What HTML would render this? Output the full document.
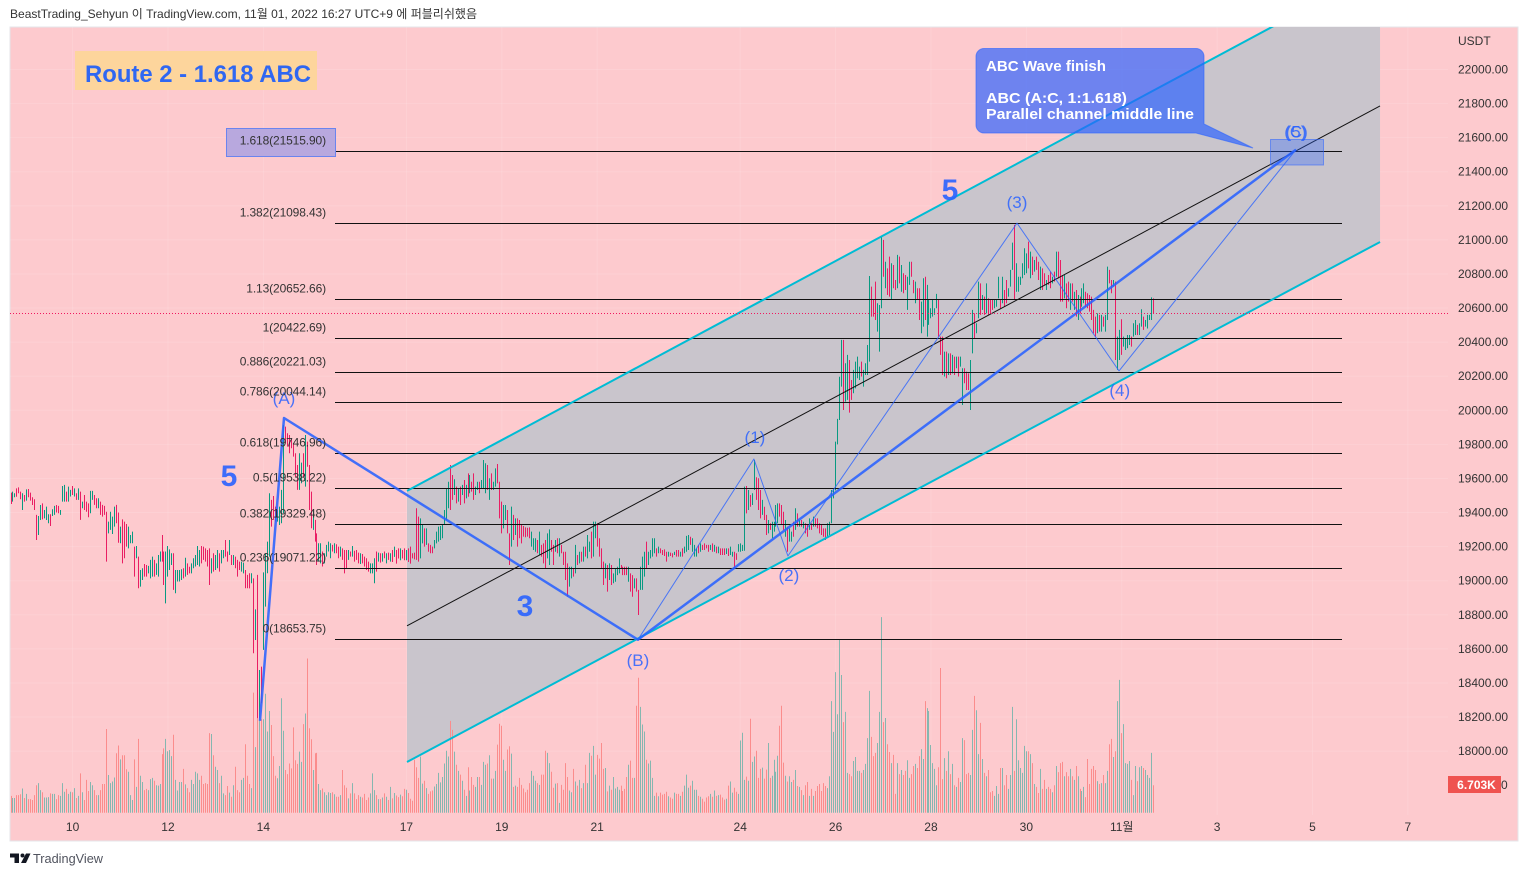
<!DOCTYPE html>
<html lang="ko">
<head>
<meta charset="utf-8">
<title>Route 2 - 1.618 ABC</title>
<style>
html,body{margin:0;padding:0;background:#fff;width:1528px;height:876px;overflow:hidden}
svg{display:block;font-family:"Liberation Sans","Noto Sans CJK KR",sans-serif}
</style>
</head>
<body>
<svg id="chart" xmlns="http://www.w3.org/2000/svg" width="1528" height="876" viewBox="0 0 1528 876">
  <defs><clipPath id="plot-clip"><rect x="10" y="27" width="1508" height="814"/></clipPath></defs>
  <text x="10" y="18" font-size="12" fill="#333" textLength="467" lengthAdjust="spacingAndGlyphs">BeastTrading_Sehyun 이 TradingView.com, 11월 01, 2022 16:27 UTC+9 에 퍼블리쉬했음</text>
  <rect x="10" y="27" width="1508" height="814" fill="#fdcace" stroke="#e4e6ea" stroke-width="1"/>
  <g id="grid"></g>
  <g clip-path="url(#plot-clip)">
    <polygon id="channel-fill" fill="#c9c5cc"/>
    <g id="vols"></g>
    <g id="bars"></g>
    <g id="fibs"></g>
    <line id="chan-mid" stroke="#111" stroke-width="1"/>
    <line id="chan-top" stroke="#00bcd4" stroke-width="2"/>
    <line id="chan-bot" stroke="#00bcd4" stroke-width="2"/>
    <polyline id="wave-abc" fill="none" stroke="#2962ff" stroke-opacity=".88" stroke-width="2.5" stroke-linejoin="round"/>
    <polyline id="wave-five" fill="none" stroke="#2962ff" stroke-opacity=".8" stroke-width="1" stroke-linejoin="round"/>
    <line id="last-price" x1="10" x2="1448" stroke="#f0185f" stroke-width="1" stroke-dasharray="1 2"/>
  </g>
  <g id="wave-labels" font-size="17" fill="#2962ff" fill-opacity=".85" text-anchor="middle"></g>
  <g font-size="30" font-weight="bold" fill="#2962ff" fill-opacity=".9" text-anchor="middle">
    <text x="229" y="486">5</text>
    <text x="525" y="616">3</text>
    <text x="950" y="200">5</text>
  </g>
  <g>
    <rect x="75" y="51" width="242" height="39" fill="#fdd59c"/>
    <text x="85" y="82" font-size="24" font-weight="bold" fill="#2f67f2" textLength="226" lengthAdjust="spacingAndGlyphs">Route 2 - 1.618 ABC</text>
  </g>
  <rect x="226.5" y="128.5" width="109" height="28" fill="#b8a8de" stroke="#6b84ee"/>
  <g id="fib-labels" font-size="12" fill="#333" text-anchor="end" letter-spacing="-.12"></g>
  <rect x="1270.5" y="139.5" width="53" height="25.5" fill="#2962ff" fill-opacity=".32" stroke="#2962ff" stroke-opacity=".55"/>
  <g>
    <path d="M984 48.5H1196a8 8 0 0 1 8 8V124L1253 148L1196 133H984a8 8 0 0 1-8-8V56.500a8 8 0 0 1 8-8Z" fill="#2962ff" fill-opacity=".68" stroke="#2962ff" stroke-opacity=".6"/>
    <g font-size="15" font-weight="bold" fill="#fff">
      <text x="986" y="71" textLength="120" lengthAdjust="spacingAndGlyphs">ABC Wave finish</text>
      <text x="986" y="103" textLength="141" lengthAdjust="spacingAndGlyphs">ABC (A:C, 1:1.618)</text>
      <text x="986" y="119" textLength="208" lengthAdjust="spacingAndGlyphs">Parallel channel middle line</text>
    </g>
  </g>
  <g id="y-axis" font-size="12" fill="#333">
    <text x="1458" y="45">USDT</text>
    <text x="1501" y="789">0</text>
  </g>
  <rect x="1448" y="776" width="53" height="17" fill="#ef5350"/>
  <text x="1476.500" y="789" font-size="12" font-weight="bold" fill="#fff" text-anchor="middle">6.703K</text>
  <g id="x-axis" font-size="12" fill="#333" text-anchor="middle"></g>
  <g>
    <path d="M10 853.500h9v9.500h-4.500v-5.500h-4.500ZM26 853.500h4.500l-4.500 9.500h-5Z" fill="#131722"/>
    <circle cx="22.500" cy="855.500" r="2" fill="#131722"/>
    <text x="33" y="863" font-size="13" fill="#50535e" textLength="70" lengthAdjust="spacingAndGlyphs">TradingView</text>
  </g>
</svg>
<script>
const priceTicks = [22000,21800,21600,21400,21200,21000,20800,20600,20400,20200,20000,19800,19600,19400,19200,19000,18800,18600,18400,18200,18000];
const dateLabels = ["10","12","14","17","19","21","24","26","28","30","11월","3","5","7"];
const dateBars = [31,79,127,199,247,295,367,415,463,511,559,607,655,703];
const fibRatios = ["1.618","1.382","1.13","1","0.886","0.786","0.618","0.5","0.382","0.236","0"];
const fibPrices = [21515.90,21098.43,20652.66,20422.69,20221.03,20044.14,19746.96,19538.22,19329.48,19071.22,18653.75];
const lastPrice = 20570;
const barHighs = [
19517,19523,19513,19542,19548,19523,19513,19503,19536,19538,19517,19490,19478,19386,19380,19444,19454,19415,19435,19390,19390,19419,19439,19444,
19439,19415,19556,19562,19523,19552,19533,19556,19542,19513,19542,19523,19464,19503,19464,19454,19527,19527,19503,19484,19484,19464,19445,19439,
19405,19347,19405,19376,19435,19445,19400,19317,19360,19347,19333,19317,19268,19288,19200,19204,19141,19063,19073,19098,19092,19087,19122,19141,
19122,19102,19151,19171,19268,19171,19171,19204,19184,19161,19161,19063,19063,19063,19067,19073,19135,19102,19082,19102,19132,19151,19204,19180,
19204,19200,19190,19180,19190,19132,19161,19151,19180,19161,19180,19180,19239,19171,19239,19151,19151,19141,19122,19112,19112,19106,19063,19034,
19044,19044,19014,18832,19034,18476,18496,19049,19161,19229,19513,19474,19497,19435,19415,19435,19533,19914,19904,19865,19855,19836,19806,19748,
19679,19748,19693,19748,19855,19816,19679,19523,19415,19357,19278,19220,19220,19171,19161,19210,19229,19220,19210,19220,19214,19200,19200,19190,
19180,19180,19180,19171,19204,19176,19180,19165,19161,19157,19141,19132,19112,19102,19102,19132,19171,19165,19161,19161,19171,19161,19165,19161,
19180,19200,19180,19190,19190,19180,19190,19180,19190,19200,19161,19165,19425,19376,19366,19333,19307,19307,19219,19210,19200,19239,19288,19317,
19321,19327,19415,19542,19581,19679,19620,19595,19552,19542,19552,19562,19591,19562,19630,19620,19581,19630,19552,19581,19581,19591,19708,19689,
19679,19601,19630,19581,19659,19685,19581,19464,19444,19444,19415,19278,19435,19386,19366,19366,19356,19327,19321,19313,19311,19313,19288,19249,
19249,19239,19288,19210,19219,19239,19278,19301,19239,19210,19239,19249,19249,19210,19170,19170,19102,19082,19082,19073,19210,19151,19170,19170,
19200,19200,19268,19229,19288,19347,19347,19337,19249,19190,19112,19102,19092,19102,19092,19043,19073,19082,19131,19092,19082,19082,19082,19082,
19043,19033,19014,19014,18946,19082,19141,19170,19229,19170,19180,19249,19249,19190,19200,19190,19180,19184,19170,19170,19165,19161,19170,19180,
19180,19170,19190,19200,19263,19268,19258,19249,19210,19190,19210,19219,19210,19219,19210,19210,19210,19219,19210,19200,19200,19190,19190,19190,
19190,19190,19200,19170,19170,19161,19215,19219,19210,19552,19556,19532,19503,19513,19708,19607,19601,19532,19474,19434,19386,19356,19337,19346,
19346,19444,19454,19454,19444,19405,19356,19317,19307,19288,19346,19425,19395,19356,19356,19346,19337,19327,19366,19337,19376,19366,19366,19337,
19327,19307,19307,19337,19346,19532,19542,19816,19950,20197,20413,20413,20276,20325,20295,20178,20237,20286,20315,20256,20286,20237,20276,20383,
20788,20726,20648,20755,20628,20618,21019,21000,20872,20833,20902,20863,20853,20765,20912,20902,20853,20804,20794,20784,20872,20872,20765,20755,
20716,20716,20638,20775,20784,20736,20648,20599,20651,20599,20683,20648,20432,20432,20344,20344,20334,20334,20325,20315,20315,20315,20315,20247,
20247,20227,20217,20295,20589,20569,20511,20755,20745,20677,20667,20745,20657,20648,20648,20648,20648,20784,20648,20784,20706,20765,20716,20824,
20984,21088,20863,20784,20784,20863,20951,20921,20990,20931,20902,20882,20902,20872,20843,20833,20804,20765,20794,20814,20784,20814,20931,20931,
20882,20794,20794,20745,20755,20745,20745,20696,20706,20677,20667,20716,20745,20696,20687,20677,20667,20589,20550,20569,20560,20560,20550,20560,
20843,20824,20765,20765,20755,20432,20472,20534,20432,20423,20442,20442,20432,20511,20530,20501,20511,20593,20550,20530,20560,20560,20663,20657];
const barLows = [
19450,19464,19490,19493,19513,19478,19415,19464,19470,19490,19470,19444,19415,19239,19268,19356,19360,19366,19356,19337,19321,19380,19386,19400,
19396,19386,19464,19464,19464,19464,19494,19503,19494,19474,19474,19357,19425,19415,19405,19372,19396,19474,19445,19425,19425,19386,19376,19386,
19112,19278,19298,19274,19317,19337,19223,19220,19102,19132,19200,19190,19220,19220,19024,19132,18956,18965,19004,19024,19024,19043,19014,19024,
19024,19034,19024,19112,19112,18975,18867,19024,19063,19092,18946,18926,18995,18995,19004,19014,19024,19034,19043,19043,19073,19083,19092,19083,
19102,19122,19112,19083,18975,19043,19053,19063,19073,19053,19102,19132,19141,19112,19151,19092,19092,19073,19024,19063,19053,19043,18956,18956,
18955,18985,18574,18652,18193,18193,18281,18594,18848,19044,19141,19317,19357,19347,19347,19327,19337,19396,19806,19787,19748,19777,19728,19611,
19533,19533,19572,19611,19552,19669,19415,19308,19298,19229,19092,19112,19102,19083,19102,19141,19171,19132,19171,19161,19161,19132,19141,19122,
19043,19073,19122,19141,19141,19112,19122,19102,19098,19102,19083,19063,19053,19043,19043,18985,19053,19112,19106,19112,19132,19102,19122,19112,
19110,19140,19100,19130,19120,19130,19120,19120,19110,19100,19131,19125,19122,19112,19131,19219,19200,19210,19170,19161,19161,19190,19219,19229,
19239,19249,19327,19356,19425,19415,19474,19503,19454,19464,19444,19503,19454,19483,19493,19513,19523,19474,19503,19532,19513,19542,19542,19513,
19532,19474,19532,19532,19552,19571,19366,19278,19307,19356,19278,19092,19200,19239,19268,19200,19249,19219,19259,19255,19259,19249,19200,19180,
19170,19161,19151,19141,19102,19073,19131,19092,19170,19092,19170,19161,19141,19161,19092,19004,18906,18965,19014,19024,19043,19092,19102,19112,
19112,19141,19131,19170,19131,19141,19249,19200,19141,19073,18975,19014,18936,19004,18975,18985,18994,19033,19043,19073,19033,19033,19033,18994,
18936,18906,18955,18936,18799,18946,18946,19024,19073,19092,19131,19141,19161,19141,19161,19161,19151,19145,19112,19141,19145,19137,19151,19141,
19141,19141,19141,19161,19170,19180,19210,19170,19141,19141,19161,19170,19180,19180,19190,19170,19180,19170,19170,19161,19161,19151,19151,19151,
19157,19145,19151,19141,19073,19122,19170,19170,19174,19176,19395,19415,19434,19444,19532,19474,19415,19366,19386,19356,19268,19278,19298,19249,
19288,19317,19337,19376,19327,19298,19258,19170,19229,19229,19258,19298,19317,19317,19317,19307,19278,19258,19298,19298,19317,19317,19307,19278,
19268,19258,19239,19258,19268,19337,19483,19530,19800,19943,20139,20002,20051,20061,19986,20061,20100,20129,20188,20178,20198,20139,20207,20207,
20286,20550,20550,20530,20462,20344,20599,20784,20716,20677,20667,20648,20716,20706,20716,20745,20696,20687,20706,20589,20736,20784,20687,20628,
20648,20530,20452,20491,20530,20432,20501,20540,20550,20560,20599,20432,20325,20207,20198,20188,20207,20207,20217,20207,20247,20198,20256,20031,
20159,20119,20119,20002,20334,20423,20452,20540,20560,20589,20560,20569,20560,20569,20589,20599,20608,20657,20599,20628,20608,20628,20667,20726,
20824,20648,20696,20696,20736,20775,20794,20804,20833,20775,20794,20814,20824,20765,20706,20706,20736,20706,20736,20716,20745,20755,20784,20775,
20638,20638,20657,20599,20638,20589,20638,20589,20550,20530,20569,20608,20628,20608,20599,20579,20530,20452,20432,20452,20462,20462,20491,20462,
20530,20745,20687,20726,20295,20237,20295,20325,20374,20354,20364,20383,20374,20432,20442,20442,20442,20491,20472,20491,20480,20530,20530,20569];
const barDirections = [
"011000101000001101110110","011101101010100011001000","011110010001110101100111","011100111101111010011111",
"000001011011001010001100","010101011110001111000000","011010001001101111010010","001010001000011101010101",
"010010010000001101000111","111110010101010100110111","010110001100101000000011","101000110010100001101010",
"101101100001010111100001","001001110111101000010010","010111011101000010101000","101100111101011000100101",
"111000101101010100101000","000111111110110011110111","100011101001001010011001","001101111110001010101011",
"000110110101000111010011","101111110101001001001010","001001010101100000010101","100101101111011011011110"];
const volumesK = [
4.1,3.6,3.6,4.3,4.3,4.5,5.9,3.6,4.6,3.3,3.3,3.1,4.3,6.7,7.2,5.5,5,3.7,3.7,3.8,4.7,4.6,4.6,3.3,
4.3,4.1,7.2,5.1,5.8,4.6,5.1,5,6,3.6,4.1,9.6,5,3.1,8,5.3,7.5,6.7,5.5,4.3,4.3,5.5,7,7,
20.4,9.2,7.2,7.6,8.6,14.5,16.4,13,14,14,10.6,10,4.3,3.1,13,6.3,18,9,7.5,5.5,5.8,5.5,8.2,8.5,
7.8,6.7,6.6,7,14.3,15.7,18,15,15.3,13.8,19,8,5.4,7.5,7.5,10.7,6.9,6,5,8,7,10,9.6,8,
9,7,7.2,7,19.4,19.2,14,11.2,10.4,7.2,9,4.7,4.3,6.5,4.9,3.9,6.7,11.2,5.5,5,8,8.5,16.7,9,
7,6,29.3,16,23,24.8,22.8,22.8,29,19.8,24.8,21.4,13.8,9,8.4,11.4,27.9,20,10.4,9.4,12,10.8,20.8,12.8,
11.9,14.9,12.4,21.6,24.2,37.6,20.6,17.9,10.4,14.5,14.6,7,5.5,5.9,5,4.3,5,4.8,5,4.5,3.9,3.9,4.3,10.4,
6.7,6.1,3.5,4.7,7.2,4.7,3.3,4.3,3.9,3.7,4.6,3.1,3.7,4.7,9.6,5.5,4.3,3.3,3.3,3.7,4.7,3.9,3.1,6.3,
3.5,4.8,4.2,3.8,4.4,4,5.8,5.6,4.8,3.4,2.9,12.9,11.1,8.5,13.7,7.1,7.8,6,4.6,5.2,5.4,6.4,7,9.7,
7.4,8.7,12,15.1,13.7,22.4,20.2,14.9,11.7,10.2,9.3,7.8,5.6,4.1,11.1,5.4,8.7,6.8,6.3,8.7,8.7,6.8,12.4,11.7,
12,14,8.3,8.3,10.2,16.6,21.7,21.2,12.9,10.2,15.4,16.2,14.4,6.3,6.6,6.3,8.5,6.8,5.9,5,5.6,7.2,10.2,9,
7.8,7.2,6.8,9.3,9.3,15.1,14.6,12.1,10,6.1,7.1,7.2,2.4,6.8,5.6,12.1,8.7,5.4,5,10.7,7.6,6.6,8,6,
7.2,11.7,7.2,14.6,13.9,16.3,9.3,14.1,13.2,17,10.7,10.9,5.2,6.6,5.6,8.7,5.9,6.3,5.6,6.6,5.3,5.8,8.7,11.7,
12.7,8.5,8.5,26.1,32.9,25.8,21.5,19.8,12.9,12,12.7,8.5,4.1,4.9,4,4.9,4.4,4.6,5.1,4,3.7,3.4,4.9,4.6,
4.6,4.1,5.1,6.6,9.3,6.1,6.6,7.8,5.6,5.6,4.1,3.9,3.4,2.7,3.7,4,4.6,3.9,5.4,4.1,4.3,4.4,3.7,3.2,
3.4,6.6,7.6,4.9,6.1,5.1,4.6,17.6,19.5,8,8.8,7.8,22.9,12.4,13.7,15.1,8.5,10.7,11,8.3,10.5,17,8.5,9,
12.9,10,13.9,21.2,26.1,12.2,9,7.6,8.9,7.5,8,10.4,6.5,6.3,5.5,4.3,6.7,7.5,4.1,5.8,4.1,5.3,6.5,7,
5.3,7.2,6.5,6,8.9,27.2,19.7,34.3,24,42.3,33.6,22.1,24.6,9.7,9.4,8.9,12.6,13.6,10.2,10.2,9.7,10.4,11.9,18.2,
29.7,18.5,13.8,14.6,17,24.6,47.7,22.1,23.1,16.7,14.8,12.1,14.1,4.6,12.1,9.4,10.4,9.2,10.2,12.8,8.5,9.4,11.4,11.9,
10.9,13.8,15.5,13.1,27.2,25.5,24.8,16.5,12.1,10.7,6.7,11.1,35.3,8.2,13.3,10.2,15,9.4,11.9,6.7,6.3,8.5,7.5,18.2,
17.7,9.4,9.7,9.2,20.2,28.5,25,14.3,21.9,13.1,9.7,8.9,10.4,5,5.3,4.1,6.5,4.6,10.9,10.9,6.7,9.2,5.8,9.2,
25.8,10.2,22.8,12.8,10.9,9.7,16.3,15,15,14.3,12.1,7,6.3,4.8,10.7,5.8,8,5.8,6.3,5.8,5,6.7,11.4,9.9,
12.1,12.4,8.9,9.9,8.9,10.7,8.9,8,11.4,8.9,5.8,5.3,6.3,3.8,13.1,7,10.7,11.4,10.4,7.7,7,7.2,9.2,7.2,
10.2,16.7,18,13.6,15,27.2,32.4,19.4,21.6,12.1,11.9,12.6,8,4.3,11.4,7.7,11.1,11.4,10.9,10.4,9.2,8.5,14.6,6.703];
const abcWaveBars = [125.3,137.4,315.5,646.7];
const abcWavePrices = [18178,19955,18653.75,21530];
const fiveWaveBars = [315.5,373.9,391,506.3,557.6,646.7];
const fiveWavePrices = [18653.75,19714,19145,21098.43,20231,21530];
const channelBars = [199.3,689];
const channelTopPrices = [19527,22590];
const channelMidPrices = [18735,21786];
const channelBotPrices = [17936,20988];
const waveLabelTexts = ["(A)","(B)","(1)","(2)","(3)","(4)","(C)","(5)"];
const waveLabelBars = [137.4,315.5,374.4,391.5,506.3,558,646.7,646.7];
const waveLabelPrices = [20073,18536,19842,19032,21223,20120,21635,21635];

const NS = "http://www.w3.org/2000/svg";
function xBar(i){ return 11 + 1.987 * i; }
function xSnap(i){ return Math.round(xBar(i) - .5) + .5; }
function yPrice(p){ return 69.5 + (22000 - p) * 0.1704; }
function ySnap(p){ return Math.floor(yPrice(p)) + .5; }
function yVol(k){ return 812.7 - k * 4.1; }
function node(tag, parent, attrs){
  const el = document.createElementNS(NS, tag);
  for (const k in attrs) el.setAttribute(k, attrs[k]);
  parent.appendChild(el);
  return el;
}
function pts(bars, prices){ return bars.map((b, i) => xBar(b).toFixed(1) + "," + yPrice(prices[i]).toFixed(1)).join(" "); }
const $ = id => document.getElementById(id);
const dirs = barDirections.join("");

/* grid and axes */
priceTicks.forEach(p => {
  const y = yPrice(p);
  const g = node("line", $("grid"), {x1:10, x2:1448, y1:y, y2:y, stroke:"#fff", "stroke-opacity":".12"});
  
  
  const t = node("text", $("y-axis"), {x:1458, y:y + 4});
  
  
  t.textContent = p.toFixed(2);
});
dateLabels.forEach((d, i) => {
  const x = xBar(dateBars[i]);
  const g = node("line", $("grid"), {x1:x, x2:x, y1:27, y2:815, stroke:"#fff", "stroke-opacity":".12"});
  
  
  const t = node("text", $("x-axis"), {x:x, y:831});
  
  
  t.textContent = d;
});

/* channel */
const ft = [xBar(channelBars[0]), yPrice(channelTopPrices[0]), xBar(channelBars[1]), yPrice(channelTopPrices[1])];
const fb = [xBar(channelBars[0]), yPrice(channelBotPrices[0]), xBar(channelBars[1]), yPrice(channelBotPrices[1])];
$("channel-fill").setAttribute("points", [ft[0],ft[1],ft[2],ft[3],fb[2],fb[3],fb[0],fb[1]].join(" "));
[["chan-top",channelTopPrices],["chan-mid",channelMidPrices],["chan-bot",channelBotPrices]].forEach(([id, pr]) => {
  const l = $(id);
  l.setAttribute("x1", xBar(channelBars[0]));
  l.setAttribute("x2", xBar(channelBars[1]));
  l.setAttribute("y1", yPrice(pr[0]));
  l.setAttribute("y2", yPrice(pr[1]));
});

/* volume and price bars */
volumesK.forEach((v, i) => {
  const x = xSnap(i);
  const l = node("line", $("vols"), {x1:x, x2:x, y1:812.7, y2:yVol(v), stroke: dirs[i] === "1" ? "#85b7b0" : "#fb8c8c", "stroke-width":"1"});
  
  
});
barHighs.forEach((h, i) => {
  const x = xSnap(i);
  const l = node("line", $("bars"), {x1:x, x2:x, y1:yPrice(h), y2:yPrice(barLows[i]), stroke: dirs[i] === "1" ? "#089a81" : "#e91e63", "stroke-width":"1"});
  
  
});

/* fibonacci */
fibPrices.forEach((p, i) => {
  const y = ySnap(p);
  const l = node("line", $("fibs"), {x1:335, x2:1342, y1:y, y2:y, stroke:"#111", "stroke-width":"1"});
  
  
  const t = node("text", $("fib-labels"), {x:326, y: y - 7});
  
  
  t.textContent = fibRatios[i] + "(" + p.toFixed(2) + ")";
});

/* waves */
$("wave-abc").setAttribute("points", pts(abcWaveBars, abcWavePrices));
$("wave-five").setAttribute("points", pts(fiveWaveBars, fiveWavePrices));
waveLabelTexts.forEach((s, i) => {
  const t = node("text", $("wave-labels"), {x:xBar(waveLabelBars[i]), y:yPrice(waveLabelPrices[i]) + 6});
  
  
  t.textContent = s;
});
const lp = $("last-price");
lp.setAttribute("y1", ySnap(lastPrice));
lp.setAttribute("y2", ySnap(lastPrice));
</script>
</body>
</html>
